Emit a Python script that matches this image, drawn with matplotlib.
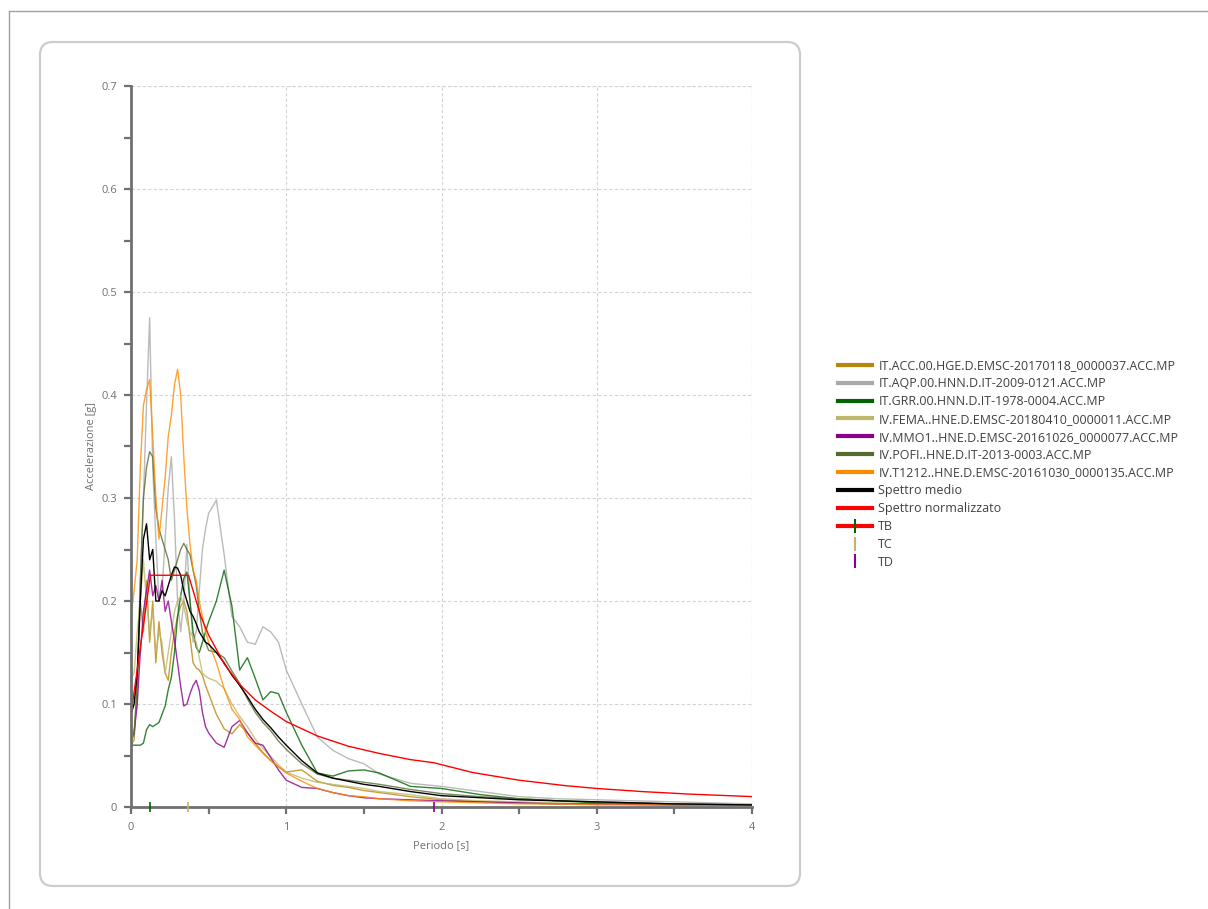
import matplotlib
matplotlib.use("Agg")
import matplotlib.pyplot as plt
from matplotlib.patches import FancyBboxPatch
from matplotlib.lines import Line2D
from matplotlib.transforms import IdentityTransform
from matplotlib.ticker import MultipleLocator

plt.rcParams['font.family'] = ['Open Sans', 'DejaVu Sans']

# Periods [s] shared by the recorded spectra
periods = [0.00, 0.02, 0.04, 0.06, 0.08, 0.10, 0.12, 0.14, 0.16, 0.18,
           0.20, 0.22, 0.24, 0.26, 0.28, 0.30, 0.32, 0.34, 0.36, 0.38,
           0.40, 0.42, 0.44, 0.46, 0.48, 0.50, 0.55, 0.60, 0.65, 0.70,
           0.75, 0.80, 0.85, 0.90, 0.95, 1.00, 1.10, 1.20, 1.30, 1.40,
           1.50, 1.60, 1.80, 2.00, 2.25, 2.50, 2.75, 3.00, 3.50, 4.00]

acc_it_acc = [0.060, 0.065, 0.120, 0.200, 0.170, 0.220, 0.160, 0.200, 0.140, 0.180,
              0.150, 0.130, 0.123, 0.150, 0.170, 0.185, 0.195, 0.200, 0.190, 0.165,
              0.140, 0.135, 0.133, 0.128, 0.118, 0.110, 0.090, 0.076, 0.071, 0.080,
              0.072, 0.062, 0.053, 0.045, 0.039, 0.034, 0.036, 0.025, 0.021, 0.019,
              0.016, 0.014, 0.010, 0.007, 0.005, 0.004, 0.003, 0.003, 0.002, 0.002]

acc_it_aqp = [0.070, 0.075, 0.100, 0.220, 0.300, 0.390, 0.475, 0.330, 0.260, 0.200,
              0.210, 0.260, 0.310, 0.340, 0.280, 0.200, 0.170, 0.200, 0.255, 0.200,
              0.160, 0.170, 0.210, 0.250, 0.270, 0.285, 0.298, 0.245, 0.185, 0.175,
              0.160, 0.158, 0.175, 0.170, 0.160, 0.133, 0.100, 0.068, 0.055, 0.047,
              0.042, 0.032, 0.023, 0.020, 0.015, 0.010, 0.008, 0.007, 0.005, 0.003]

acc_it_grr = [0.060, 0.060, 0.060, 0.060, 0.062, 0.075, 0.080, 0.078, 0.080, 0.082,
              0.090, 0.098, 0.114, 0.126, 0.150, 0.185, 0.205, 0.222, 0.228, 0.200,
              0.170, 0.155, 0.150, 0.160, 0.170, 0.180, 0.200, 0.230, 0.195, 0.133,
              0.145, 0.125, 0.104, 0.112, 0.110, 0.092, 0.060, 0.033, 0.030, 0.035,
              0.036, 0.033, 0.020, 0.018, 0.012, 0.008, 0.006, 0.004, 0.003, 0.002]

acc_iv_fema = [0.125, 0.130, 0.170, 0.200, 0.240, 0.200, 0.170, 0.190, 0.150, 0.170,
               0.160, 0.130, 0.150, 0.170, 0.190, 0.200, 0.205, 0.195, 0.180, 0.170,
               0.165, 0.160, 0.145, 0.130, 0.127, 0.125, 0.122, 0.115, 0.100, 0.088,
               0.078, 0.066, 0.057, 0.049, 0.041, 0.034, 0.028, 0.024, 0.022, 0.020,
               0.018, 0.015, 0.012, 0.008, 0.006, 0.005, 0.004, 0.003, 0.002, 0.002]

acc_iv_mmo1 = [0.068, 0.072, 0.100, 0.150, 0.190, 0.210, 0.230, 0.205, 0.215, 0.200,
               0.220, 0.190, 0.200, 0.180, 0.162, 0.140, 0.117, 0.098, 0.100, 0.110,
               0.118, 0.123, 0.113, 0.092, 0.078, 0.072, 0.062, 0.058, 0.078, 0.084,
               0.072, 0.062, 0.060, 0.048, 0.036, 0.026, 0.019, 0.018, 0.014, 0.011,
               0.009, 0.008, 0.007, 0.006, 0.005, 0.004, 0.003, 0.003, 0.002, 0.002]

acc_iv_pofi = [0.065, 0.070, 0.120, 0.220, 0.300, 0.330, 0.345, 0.340, 0.290, 0.270,
               0.260, 0.250, 0.240, 0.220, 0.230, 0.240, 0.250, 0.256, 0.250, 0.245,
               0.230, 0.215, 0.190, 0.170, 0.160, 0.152, 0.150, 0.145, 0.132, 0.120,
               0.105, 0.092, 0.082, 0.074, 0.064, 0.056, 0.042, 0.032, 0.028, 0.026,
               0.024, 0.022, 0.017, 0.013, 0.010, 0.008, 0.006, 0.005, 0.003, 0.002]

acc_iv_t1212 = [0.185, 0.210, 0.240, 0.330, 0.390, 0.405, 0.415, 0.360, 0.300, 0.260,
                0.290, 0.320, 0.360, 0.380, 0.410, 0.425, 0.400, 0.340, 0.290, 0.255,
                0.230, 0.220, 0.200, 0.185, 0.170, 0.160, 0.140, 0.115, 0.095, 0.085,
                0.068, 0.060, 0.052, 0.045, 0.039, 0.033, 0.025, 0.018, 0.014, 0.011,
                0.010, 0.008, 0.006, 0.005, 0.004, 0.003, 0.003, 0.002, 0.002, 0.002]

acc_mean = [0.090, 0.100, 0.130, 0.200, 0.260, 0.275, 0.240, 0.250, 0.200, 0.200,
            0.210, 0.205, 0.215, 0.225, 0.233, 0.232, 0.225, 0.210, 0.200, 0.190,
            0.185, 0.178, 0.170, 0.165, 0.160, 0.158, 0.150, 0.140, 0.128, 0.118,
            0.107, 0.095, 0.085, 0.077, 0.068, 0.060, 0.045, 0.033, 0.028, 0.025,
            0.022, 0.020, 0.015, 0.011, 0.009, 0.007, 0.006, 0.005, 0.003, 0.002]

# Normalised (code) spectrum
norm_periods = [0.00, 0.125, 0.37, 0.45, 0.50, 0.60, 0.70, 0.80, 0.90, 1.00,
                1.20, 1.40, 1.60, 1.80, 1.95, 2.20, 2.50, 2.80, 3.00, 3.30,
                3.60, 4.00]
norm_acc = [0.090, 0.225, 0.225, 0.185, 0.167, 0.139, 0.119, 0.104, 0.093, 0.083,
            0.069, 0.059, 0.052, 0.046, 0.043, 0.0335, 0.026, 0.0207, 0.018, 0.0149,
            0.0125, 0.0101]

# Corner periods
tb, tc, td = 0.125, 0.37, 1.95

record_labels = ["IT.ACC.00.HGE.D.EMSC-20170118_0000037.ACC.MP",
                 "IT.AQP.00.HNN.D.IT-2009-0121.ACC.MP",
                 "IT.GRR.00.HNN.D.IT-1978-0004.ACC.MP",
                 "IV.FEMA..HNE.D.EMSC-20180410_0000011.ACC.MP",
                 "IV.MMO1..HNE.D.EMSC-20161026_0000077.ACC.MP",
                 "IV.POFI..HNE.D.IT-2013-0003.ACC.MP",
                 "IV.T1212..HNE.D.EMSC-20161030_0000135.ACC.MP"]
record_colors = ["#B8860B", "#A9A9A9", "#006400", "#BDB76B",
                 "#8B008B", "#556B2F", "#FF8C00"]
records = [acc_it_acc, acc_it_aqp, acc_it_grr, acc_iv_fema,
           acc_iv_mmo1, acc_iv_pofi, acc_iv_t1212]

W, H = 1208, 909
fig = plt.figure(figsize=(W / 100, H / 100), dpi=100)
fig.patch.set_facecolor("white")

# Outer window frame
fig.add_artist(Line2D([9, W], [H - 11, H - 11], color="#a0a0a0", lw=1.0,
                      transform=IdentityTransform(), zorder=-2))
fig.add_artist(Line2D([9, 9], [0, H - 11], color="#a0a0a0", lw=1.0,
                      transform=IdentityTransform(), zorder=-2))
# Rounded chart panel
fig.add_artist(FancyBboxPatch((40, H - 886), 760, 844,
                              boxstyle="round,pad=0,rounding_size=13",
                              facecolor="white", edgecolor="#cccccc", lw=1.6,
                              transform=IdentityTransform(), zorder=-1))

ax = fig.add_axes([131 / W, 1 - 807 / H, (752 - 131) / W, (807 - 86) / H])
ax.set_facecolor("none")

for vals, col, lab in zip(records, record_colors, record_labels):
    ax.plot(periods, vals, color=col, lw=1.0, alpha=0.8)
ax.plot(periods, acc_mean, color="black", lw=1.0)
ax.plot(norm_periods, norm_acc, color="red", lw=1.0)

ax.plot([tb], [0], marker="|", color="#006400", ms=7, mew=1.2, clip_on=False, zorder=5)
ax.plot([tc], [0], marker="|", color="#BDB76B", ms=7, mew=1.2, clip_on=False, zorder=5)
ax.plot([td], [0], marker="|", color="#8B008B", ms=7, mew=1.2, clip_on=False, zorder=5)

ax.set_xlim(0, 4)
ax.set_ylim(0, 0.7)
ax.xaxis.set_minor_locator(MultipleLocator(0.5))
ax.yaxis.set_minor_locator(MultipleLocator(0.05))
ax.set_xticks([0, 1, 2, 3, 4])
ax.set_xticklabels(["0", "1", "2", "3", "4"])
ax.set_yticks([0, 0.1, 0.2, 0.3, 0.4, 0.5, 0.6, 0.7])
ax.set_yticklabels(["0", "0.1", "0.2", "0.3", "0.4", "0.5", "0.6", "0.7"])

for side in ("top", "right"):
    ax.spines[side].set_visible(False)
for side in ("left", "bottom"):
    ax.spines[side].set_color("#707070")
    ax.spines[side].set_linewidth(2.0)

ax.tick_params(which="both", direction="out", length=5, width=1.6,
               color="#707070", labelcolor="#707070", labelsize=8)
ax.tick_params(axis="x", which="major", pad=6)
ax.tick_params(axis="y", which="major", pad=5)
ax.grid(True, which="major", linestyle=(0, (3, 2)), color="#d4d4d4", lw=0.8)
ax.set_axisbelow(True)
# dashed lines closing the plot area at the top and the right
ax.axhline(0.7, linestyle=(0, (3, 2)), color="#d4d4d4", lw=0.8, zorder=0.5)
ax.axvline(4, linestyle=(0, (3, 2)), color="#d4d4d4", lw=0.8, zorder=0.5)

ax.set_xlabel("Periodo [s]", color="#707070", fontsize=8, labelpad=5)
ax.set_ylabel("Accelerazione [g]", color="#707070", fontsize=8, labelpad=3)

handles = [Line2D([], [], color=c, lw=3) for c in record_colors]
handles += [Line2D([], [], color="black", lw=3),
            Line2D([], [], color="red", lw=3),
            Line2D([], [], color="red", lw=3, marker="|", markeredgecolor="#006400",
                   ms=10, mew=1.5),
            Line2D([], [], color="#BDB76B", lw=0, marker="|", ms=10, mew=1.5),
            Line2D([], [], color="#8B008B", lw=0, marker="|", ms=10, mew=1.5)]
labels = record_labels + ["Spettro medio", "Spettro normalizzato", "TB", "TC", "TD"]

fig.legend(handles, labels, loc="center left", bbox_to_anchor=(827 / W, 1 - 464 / H),
           frameon=False, fontsize=9.0, handlelength=2.7, handletextpad=0.5,
           labelspacing=0.39, labelcolor="#404040")

fig.savefig("out.png", dpi=100)
